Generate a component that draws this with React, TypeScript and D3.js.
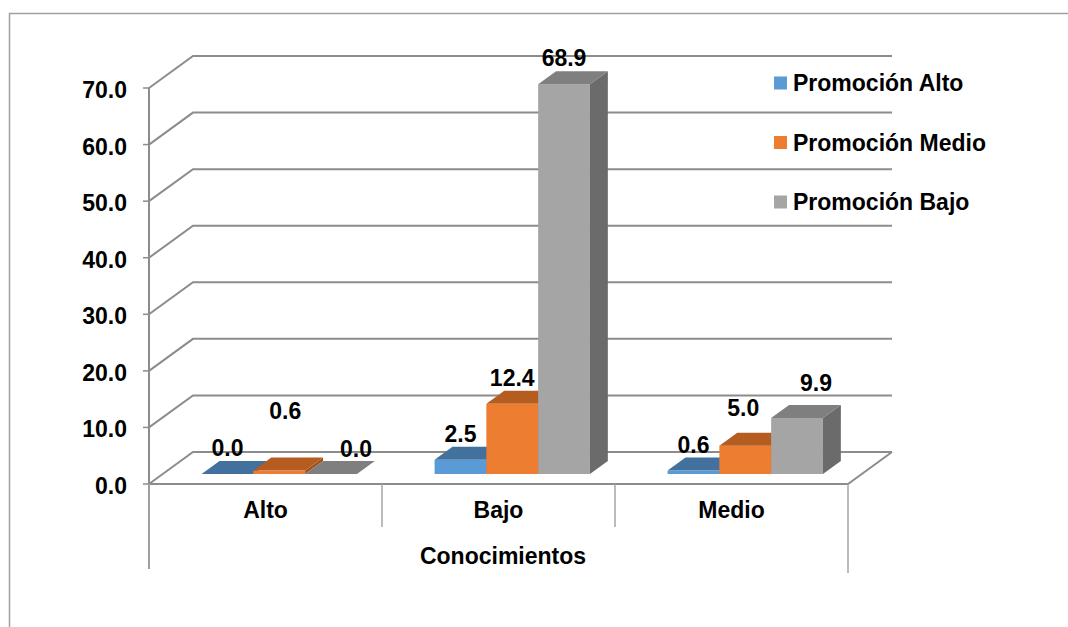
import React from "react";
import * as d3 from "d3";

const categories = ["Alto", "Bajo", "Medio"];
const seriesNames = ["Promoción Alto", "Promoción Medio", "Promoción Bajo"];
const promocionAlto = [0.0, 2.5, 0.6];
const promocionMedio = [0.6, 12.4, 5.0];
const promocionBajo = [0.0, 68.9, 9.9];
const yTicks = [0, 10, 20, 30, 40, 50, 60, 70];
const axisTitle = "Conocimientos";

const seriesValues = [promocionAlto, promocionMedio, promocionBajo];
const colors = [
  { front: "#5B9BD5", top: "#41719C", side: "#3A6690" },
  { front: "#ED7D31", top: "#B55D21", side: "#A3521C" },
  { front: "#A5A5A5", top: "#7F7F7F", side: "#6B6B6B" },
];
// manual label nudges (series index, category index) -> [dx, dy]
const labelNudges: Record<string, [number, number]> = {
  "1-0": [6, -34],
  "2-0": [25, 1],
  "1-2": [-2, -12],
  "2-2": [19, -9],
};

const W = 1068;
const H = 627;
const FONT = "'Liberation Sans', Arial, sans-serif";
const FS = 23;

export default function App() {
  const x0 = 149;
  const x1 = 848;
  const wallDx = 44;
  const wallDy = -32;
  const y = d3.scaleLinear().domain([0, 70]).range([484, 88]);
  const band = d3.scaleBand<string>().domain(categories).range([x0, x1]).paddingInner(0).paddingOuter(0);
  const inner = d3
    .scaleBand<string>()
    .domain(seriesNames)
    .range([0, band.bandwidth()])
    .paddingInner(0)
    .paddingOuter(0.75);
  const bw = inner.bandwidth();
  const fF = 0.3125;
  const fB = 0.72;
  const fdx = fF * wallDx;
  const fdy = fF * wallDy;
  const ddx = (fB - fF) * wallDx;
  const ddy = (fB - fF) * wallDy;
  const gridColor = "#8C8C8C";
  const fmt = d3.format(".1f");

  const bars: JSX.Element[] = [];
  const labels: JSX.Element[] = [];
  categories.forEach((cat, ci) => {
    seriesNames.forEach((s, si) => {
      const v = seriesValues[si][ci];
      const xl = (band(cat) as number) + (inner(s) as number) + fdx;
      const xr = xl + bw;
      const yb = y(0) + fdy;
      const yt = y(v) + fdy;
      const c = colors[si];
      bars.push(
        <g key={`b-${ci}-${si}`}>
          <rect x={xl} y={yt} width={bw} height={Math.max(0, yb - yt)} fill={c.front} />
          <polygon
            points={`${xr},${yt} ${xr + ddx},${yt + ddy} ${xr + ddx},${yb + ddy} ${xr},${yb}`}
            fill={c.side}
          />
          <polygon
            points={`${xl},${yt} ${xr},${yt} ${xr + ddx},${yt + ddy} ${xl + ddx},${yt + ddy}`}
            fill={c.top}
          />
        </g>
      );
      const n = labelNudges[`${si}-${ci}`] || [0, 0];
      labels.push(
        <text
          key={`l-${ci}-${si}`}
          x={xl + bw / 2 + n[0]}
          y={yt + ddy - 5 + n[1]}
          textAnchor="middle"
          fontFamily={FONT}
          fontWeight="bold"
          fontSize={FS}
          fill="#000"
        >
          {fmt(v)}
        </text>
      );
    });
  });

  return (
    <svg width={W} height={H} style={{ position: "absolute", left: 0, top: 0, background: "#fff" }}>
      <rect x={0} y={0} width={W} height={H} fill="#fff" />
      <path d={`M${W + 5},13.5 H9.5 V${H + 5}`} fill="none" stroke="#A0A0A0" strokeWidth={1.5} />
      {yTicks.map((t) => (
        <path
          key={`g-${t}`}
          d={`M${x0},${y(t)} L${x0 + wallDx},${y(t) + wallDy} L${x1 + wallDx},${y(t) + wallDy}`}
          fill="none"
          stroke={gridColor}
          strokeWidth={2}
        />
      ))}
      <path
        d={`M${x0},${y(0)} L${x1},${y(0)} L${x1 + wallDx},${y(0) + wallDy}`}
        fill="none"
        stroke={gridColor}
        strokeWidth={2}
      />
      <line x1={x0} x2={x0} y1={y(70)} y2={569} stroke={gridColor} strokeWidth={2} />
      {yTicks.map((t) => (
        <g key={`t-${t}`}>
          <line x1={x0 - 6} x2={x0} y1={y(t)} y2={y(t)} stroke={gridColor} strokeWidth={1.5} />
          <text
            x={127}
            y={y(t) + 10}
            textAnchor="end"
            fontFamily={FONT}
            fontWeight="bold"
            fontSize={FS}
            fill="#000"
          >
            {fmt(t)}
          </text>
        </g>
      ))}
      {[...categories.map((c) => band(c) as number), x1].map((xx, i, arr) => (
        <line
          key={`s-${i}`}
          x1={xx}
          x2={xx}
          y1={y(0)}
          y2={i === 0 ? 569 : i === arr.length - 1 ? 573 : 527}
          stroke="#A6A6A6"
          strokeWidth={1.5}
        />
      ))}
      {categories.map((c) => (
        <text
          key={`c-${c}`}
          x={(band(c) as number) + band.bandwidth() / 2}
          y={518}
          textAnchor="middle"
          fontFamily={FONT}
          fontWeight="bold"
          fontSize={FS}
          fill="#000"
        >
          {c}
        </text>
      ))}
      <text x={503} y={564} textAnchor="middle" fontFamily={FONT} fontWeight="bold" fontSize={FS} fill="#000">
        {axisTitle}
      </text>
      {bars}
      {labels}
      {seriesNames.map((s, i) => (
        <g key={`lg-${i}`} transform={`translate(774, ${83 + i * 59.5})`}>
          <rect x={0} y={-6.5} width={13} height={13} fill={colors[i].front} />
          <text x={19} y={8} fontFamily={FONT} fontWeight="bold" fontSize={FS} fill="#000">
            {s}
          </text>
        </g>
      ))}
    </svg>
  );
}
